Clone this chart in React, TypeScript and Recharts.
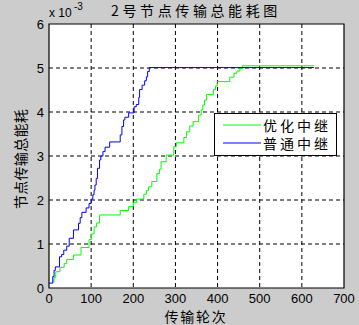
import { LineChart, Line, XAxis, YAxis, CartesianGrid, Legend, ReferenceArea } from 'recharts';

// x = 传输轮次, y = 总能耗 (×10^-3)
const normalX = [0, 9, 12, 15, 25, 30, 35, 42, 48, 58, 70, 74, 78, 88, 95, 100, 104, 107, 109, 112, 115, 120, 123, 128, 133, 144, 169, 173, 177, 180, 189, 202, 207, 213, 215, 221, 227, 231, 234, 238, 629];
const normalY = [0.11, 0.26, 0.4, 0.48, 0.71, 0.76, 0.86, 0.95, 1.13, 1.32, 1.47, 1.6, 1.72, 1.82, 1.92, 2.02, 2.12, 2.22, 2.34, 2.49, 2.72, 2.91, 3.0, 3.1, 3.2, 3.32, 3.48, 3.67, 3.82, 3.88, 3.98, 4.12, 4.17, 4.33, 4.51, 4.61, 4.71, 4.8, 4.92, 5.01, 5.01];

const optX = [8, 12, 16, 26, 36, 42, 58, 76, 95, 101, 107, 113, 120, 169, 189, 200, 208, 225, 231, 236, 244, 256, 262, 266, 278, 296, 302, 320, 326, 334, 342, 355, 361, 365, 369, 374, 390, 395, 399, 429, 439, 446, 453, 459, 629];
const optY = [0.14, 0.24, 0.37, 0.47, 0.56, 0.65, 0.75, 0.92, 1.1, 1.23, 1.39, 1.48, 1.66, 1.76, 1.85, 1.94, 2.02, 2.13, 2.21, 2.3, 2.42, 2.6, 2.7, 2.87, 3.02, 3.21, 3.3, 3.42, 3.55, 3.68, 3.78, 3.93, 4.05, 4.16, 4.27, 4.4, 4.51, 4.59, 4.69, 4.79, 4.88, 4.93, 4.99, 5.05, 5.05];

const xTicks = [0, 100, 200, 300, 400, 500, 600, 700];
const yTicks = [0, 1, 2, 3, 4, 5, 6];

const seriesNames = ['优化中继', '普通中继'];
const seriesColors = ['#00ff00', '#0000ff'];

const normalData = normalX.map((x, i) => ({ x, y: normalY[i] }));
const optData = optX.map((x, i) => ({ x, y: optY[i] }));

const tickStyle = { fontSize: 13, fill: '#000', fontFamily: '"Liberation Sans", Arial, sans-serif' };
const cjk = '"Noto Sans CJK SC", sans-serif';

function LegendBox() {
  return (
    <svg width={123} height={43} style={{ display: 'block' }}>
      <rect x={0.5} y={0.5} width={122} height={42} fill="#fff" stroke="#000" />
      {seriesNames.map((name, i) => (
        <g key={name}>
          <line x1={9} x2={47} y1={12 + i * 18} y2={12 + i * 18} stroke={seriesColors[i]} strokeWidth={1} />
          <text x={49} y={12 + i * 18} dominantBaseline="central" fontSize={14} fontFamily={cjk} letterSpacing={3} fill="#000">
            {name}
          </text>
        </g>
      ))}
    </svg>
  );
}

export default function App() {
  return (
    <div style={{ position: 'absolute', left: 0, top: 0, width: 359, height: 325, background: '#cccccc' }}>
      <LineChart width={359} height={325} margin={{ top: 24, right: 15, bottom: 0, left: 0 }}>
        <CartesianGrid stroke="#000" strokeDasharray="4 3" fill="#fff" horizontalValues={[1, 2, 3, 4, 5]} verticalValues={[100, 200, 300, 400, 500, 600]} />
        <XAxis
          dataKey="x"
          type="number"
          domain={[0, 700]}
          ticks={xTicks}
          height={37}
          tickLine={false}
          tickSize={0}
          tickMargin={6}
          axisLine={false}
          tick={tickStyle}
          allowDataOverflow
        />
        <YAxis
          type="number"
          domain={[0, 6]}
          ticks={yTicks}
          width={49}
          tickLine={false}
          tickSize={0}
          tickMargin={5}
          axisLine={false}
          tick={tickStyle}
          allowDataOverflow
        />
        <ReferenceArea x1={0} x2={700} y1={0} y2={6} fill="none" stroke="#000" strokeWidth={1.2} ifOverflow="visible" />
        <Line data={optData} dataKey="y" name={seriesNames[0]} type="stepAfter" stroke={seriesColors[0]} strokeWidth={1} dot={false} isAnimationActive={false} />
        <Line data={normalData} dataKey="y" name={seriesNames[1]} type="stepAfter" stroke={seriesColors[1]} strokeWidth={1} dot={false} isAnimationActive={false} />
        <Legend
          layout="horizontal"
          align="center"
          verticalAlign="middle"
          content={() => <LegendBox />}
          wrapperStyle={{ position: 'absolute', left: 214, top: 113, width: 123, height: 43 }}
        />
      </LineChart>
      <svg width={359} height={325} style={{ position: 'absolute', left: 0, top: 0, pointerEvents: 'none' }}>
        <text x={196} y={9.7} textAnchor="middle" dominantBaseline="central" fontSize={14} fontFamily={cjk} letterSpacing={3.6} fill="#000">
          2号节点传输总能耗图
        </text>
        <text x={196} y={315.5} textAnchor="middle" dominantBaseline="central" fontSize={14} fontFamily={cjk} letterSpacing={1.7} fill="#000">
          传输轮次
        </text>
        <text transform="translate(20,159) rotate(-90)" textAnchor="middle" dominantBaseline="central" fontSize={14} fontFamily={cjk} letterSpacing={0.3} fill="#000">
          节点传输总能耗
        </text>
        <text x={49} y={17.3} fontSize={12} fontFamily='"Liberation Sans", Arial, sans-serif' fill="#000">x 10</text>
        <text x={74} y={10} fontSize={10} fontFamily='"Liberation Sans", Arial, sans-serif' fill="#000">-3</text>
      </svg>
    </div>
  );
}
